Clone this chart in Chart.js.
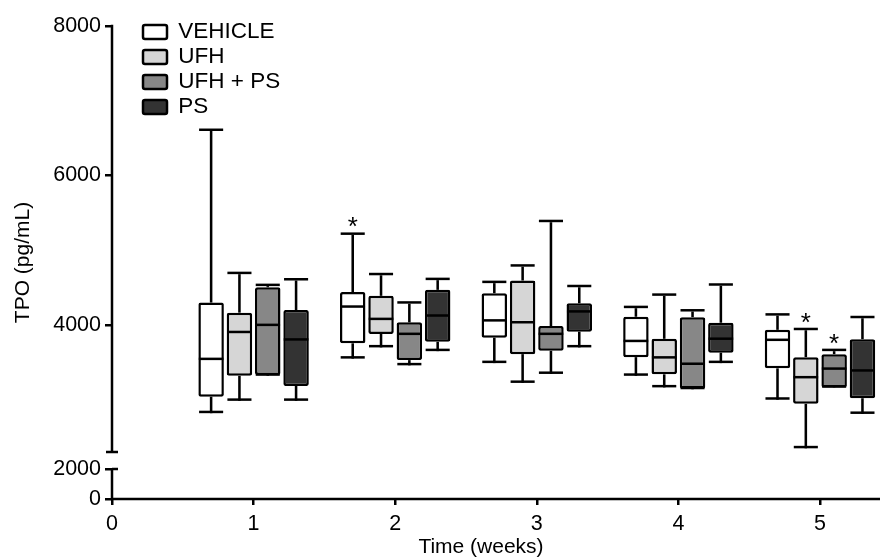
<!DOCTYPE html>
<html><head><meta charset="utf-8">
<script src="https://cdn.jsdelivr.net/npm/chart.js@4.4.1/dist/chart.umd.min.js"></script>
<style>html,body{margin:0;padding:0;background:#fff}#wrap{width:880px;height:558px;position:relative}</style>
</head><body><div id="wrap"><canvas id="c"></canvas></div>
<script>
// ---- data ----
const weeks = [1, 2, 3, 4, 5];
const seriesNames = ['VEHICLE', 'UFH', 'UFH + PS', 'PS'];
// per week: [min, q1, median, q3, max]
const vehicle = [[2820, 3040, 3530, 4300, 6595], [3550, 3755, 4230, 4440, 5205], [3490, 3830, 4045, 4425, 4560], [3320, 3570, 3770, 4110, 4225], [3000, 3420, 3785, 3935, 4125]];
const ufh = [[2985, 3320, 3890, 4165, 4680], [3700, 3880, 4065, 4390, 4665], [3225, 3610, 4020, 4595, 4780], [3165, 3340, 3550, 3815, 4390], [2350, 2945, 3285, 3570, 3930]];
const ufhPs = [[3320, 3330, 3985, 4505, 4520], [3460, 3530, 3865, 4035, 4285], [3345, 3655, 3865, 3985, 5375], [3140, 3150, 3465, 4105, 4180], [3160, 3165, 3400, 3610, 3650]];
const ps = [[2985, 3185, 3790, 4200, 4595], [3650, 3775, 4110, 4470, 4600], [3700, 3910, 4165, 4290, 4505], [3490, 3630, 3800, 4030, 4525], [2810, 3020, 3375, 3810, 4090]];
const significant = [['VEHICLE', 2], ['UFH', 5], ['UFH + PS', 5]];
const xTicks = [0, 1, 2, 3, 4, 5];
const yUpperTicks = [4000, 6000, 8000];
const yLowerTicks = [0, 2000];
const yBreak = 2300;

// ---- styling ----
const seriesData = [vehicle, ufh, ufhPs, ps];
const fills = ['#ffffff', '#d6d6d6', '#878787', '#333333'];
const INK = '#000000';
const FONT = "'Liberation Sans', Arial, Helvetica, sans-serif";
Chart.defaults.font.family = FONT;
Chart.defaults.color = INK;

const datasets = [];
const pick = (i, j) => weeks.map((w, k) => ({ x: w, y: [seriesData[i][k][j], seriesData[i][k][j]] }));
const span = (i, a, b) => weeks.map((w, k) => ({ x: w, y: [seriesData[i][k][a], seriesData[i][k][b]] }));
seriesNames.forEach((name, i) => datasets.push({
  role: 'median', label: name + ' median', stack: name, order: 0, data: pick(i, 2),
  backgroundColor: INK, borderWidth: 0, minBarLength: 2.5, barPercentage: 0.87, clip: false
}));
seriesNames.forEach((name, i) => datasets.push({
  role: 'box', label: name, stack: name, order: 1, data: span(i, 1, 3),
  backgroundColor: fills[i], borderColor: INK, borderWidth: 2.5, borderSkipped: false,
  borderRadius: 2, barPercentage: 0.9, clip: false
}));
seriesNames.forEach((name, i) => {
  datasets.push({ role: 'whiskerLow', label: name + ' low', stack: name, order: 2, data: span(i, 0, 1),
    backgroundColor: INK, borderWidth: 0, barPercentage: 0.09, clip: false });
  datasets.push({ role: 'whiskerHigh', label: name + ' high', stack: name, order: 2, data: span(i, 3, 4),
    backgroundColor: INK, borderWidth: 0, barPercentage: 0.09, clip: false });
  datasets.push({ role: 'capMin', label: name + ' min', stack: name, order: 2, data: pick(i, 0),
    backgroundColor: INK, borderWidth: 0, minBarLength: 2.5, barPercentage: 0.85, clip: false });
  datasets.push({ role: 'capMax', label: name + ' max', stack: name, order: 2, data: pick(i, 4),
    backgroundColor: INK, borderWidth: 0, minBarLength: 2.5, barPercentage: 0.85, clip: false });
});

const layoutFix = {
  id: 'layoutFix',
  afterLayout(chart) {
    const lg = chart.legend;
    if (lg) {
      lg.left = 140.5; lg.top = 18.25;
      lg.right = chart.width; lg.bottom = chart.chartArea.bottom;
    }
    // let the upper y axis share the label area of the lower one
    const yU = chart.scales.y;
    yU.left = 0; yU.width = yU.right;
  }
};

const axisBreak = {
  id: 'axisBreak',
  afterDraw(chart) {
    const ctx = chart.ctx;
    const yU = chart.scales.y, yL = chart.scales.y2;
    const ax = chart.chartArea.left;
    ctx.save();
    ctx.strokeStyle = INK; ctx.lineWidth = 2.5; ctx.lineCap = 'butt';
    const top = yU.getPixelForValue(yUpperTicks[yUpperTicks.length - 1]);
    const brk = yU.getPixelForValue(yBreak);
    const l2 = yL.getPixelForValue(yLowerTicks[yLowerTicks.length - 1]);
    const l0 = yL.getPixelForValue(yLowerTicks[0]);
    ctx.beginPath();
    ctx.moveTo(ax, top - 1.25); ctx.lineTo(ax, brk);
    ctx.moveTo(ax - 6, brk); ctx.lineTo(ax + 6, brk);
    ctx.moveTo(ax, l2); ctx.lineTo(ax, l0);
    ctx.moveTo(ax, l2); ctx.lineTo(ax + 6, l2);
    ctx.moveTo(ax - 1.25, l0); ctx.lineTo(chart.width, l0);
    ctx.stroke();
    ctx.fillStyle = INK; ctx.font = '26px ' + FONT;
    ctx.textAlign = 'center'; ctx.textBaseline = 'alphabetic';
    significant.forEach(([name, week]) => {
      const di = chart.data.datasets.findIndex(d => d.role === 'capMax' && d.stack === name);
      const el = chart.getDatasetMeta(di).data[weeks.indexOf(week)];
      ctx.fillText('*', el.x, el.y + 3);
    });
    ctx.restore();
  }
};

new Chart(document.getElementById('c'), {
  type: 'bar',
  data: { datasets },
  plugins: [layoutFix, axisBreak],
  options: {
    responsive: true, maintainAspectRatio: false, animation: false,
    layout: { padding: { top: 26, right: 30, left: 0, bottom: 0 } },
    plugins: {
      tooltip: { enabled: false },
      legend: {
        position: 'chartArea', align: 'start',
        labels: {
          filter: (item, data) => data.datasets[item.datasetIndex].role === 'box',
          boxWidth: 24, boxHeight: 14, padding: 2.5, color: INK,
          font: { size: 22.5 }, useBorderRadius: true, borderRadius: 2
        }
      }
    },
    scales: {
      x: {
        type: 'linear', min: 0, max: 5.212, offset: false,
        afterBuildTicks: s => { s.ticks = xTicks.map(v => ({ value: v })); },
        afterFit: s => { s.height = 59; },
        grid: { drawOnChartArea: false, offset: false, color: INK, lineWidth: 2.5, tickLength: 6 },
        border: { display: false },
        ticks: { color: INK, font: { size: 21.5 }, padding: 6, callback: v => String(v), maxRotation: 0 },
        title: { display: true, text: 'Time (weeks)', color: INK, font: { size: 21 }, padding: { top: 0, bottom: -2 } }
      },
      y: {
        type: 'linear', position: 'left', weight: 0, min: 1672, max: 8000, stacked: false,
        afterBuildTicks: s => { s.ticks = yUpperTicks.map(v => ({ value: v })); },
        afterFit: s => { s.width = 0; },
        grid: { drawOnChartArea: false, color: INK, lineWidth: 2.5, tickLength: 7 },
        border: { display: false },
        ticks: { color: INK, font: { size: 21.5 }, padding: 4, callback: v => String(v) }
      },
      y2: {
        type: 'linear', position: 'left', weight: 1, min: 0, max: 31533,
        afterBuildTicks: s => { s.ticks = yLowerTicks.map(v => ({ value: v })); },
        afterFit: s => { s.width = 112; },
        grid: { drawOnChartArea: false, color: INK, lineWidth: 2.5, tickLength: 7 },
        border: { display: false },
        ticks: { color: INK, font: { size: 21.5 }, padding: 4, callback: v => String(v) },
        title: { display: true, text: 'TPO (pg/mL)', color: INK, font: { size: 21 }, padding: { top: 11, bottom: 0 } }
      }
    }
  }
});
</script>
</body></html>
